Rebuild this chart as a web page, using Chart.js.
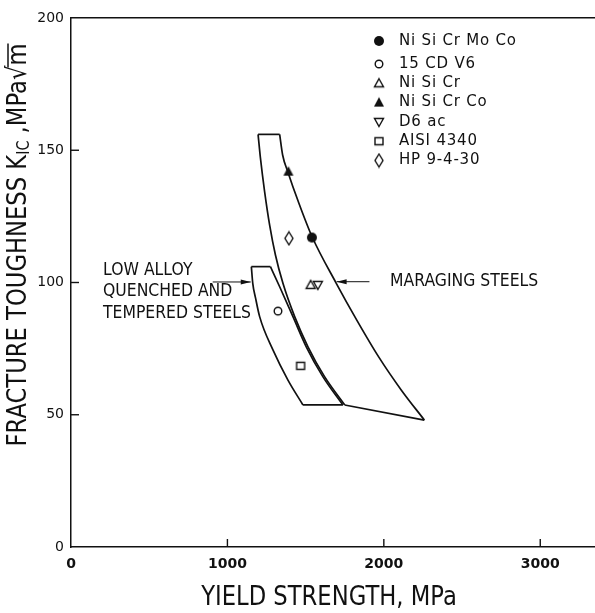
<!DOCTYPE html>
<html>
<head>
<meta charset="utf-8">
<script src="https://cdn.jsdelivr.net/npm/chart.js@4.4.1/dist/chart.umd.min.js"></script>
<style>
  html, body { margin: 0; padding: 0; background: #fff; }
  #wrap { width: 595px; height: 613px; position: relative; }
</style>
</head>
<body>
<div id="wrap"><canvas id="chart"></canvas></div>
<script>
// axis ticks
const xTicks = [0, 1000, 2000, 3000];
const yTicks = [0, 50, 100, 150, 200];

// maraging steels band (yield strength MPa, K_IC MPa√m)
const maragingTop = [[1196, 156], [1334, 156]];
const maragingRight = [[1334, 156], [1353, 148.2], [1386, 141.9], [1453, 130.6], [1542, 117.2],
  [1695, 99.8], [1827, 85.8], [1968, 71.8], [2111, 59.4], [2259, 48]];
const maragingBottom = [[2259, 48], [1750, 53.7]];
const maragingLeft = [[1196, 156], [1211, 147.1], [1238, 134.3], [1270, 121.7], [1307, 110.4], [1355, 99.7],
  [1430, 87.1], [1515, 75.7], [1620, 64.5], [1750, 53.7]];

// low alloy quenched and tempered steels band
const lowAlloyTop = [[1153, 106], [1275, 106]];
const lowAlloyRight = [[1275, 106], [1334, 98.4], [1419, 87.1], [1504, 75.7], [1610, 64.4], [1738, 53.7]];
const lowAlloyBottom = [[1483, 53.7], [1738, 53.7]];
const lowAlloyLeft = [[1153, 106], [1162, 99.7], [1180, 94.1], [1206, 87.1], [1291, 74.5], [1387, 63.1], [1483, 53.7]];

// individual steels
const steelNames = ["Ni Si Cr Mo Co", "15 CD V6", "Ni Si Cr", "Ni Si Cr Co", "D6 ac", "AISI 4340", "HP 9-4-30"];
const steelX = [1540, 1323, 1532, 1390, 1578, 1468, 1393];
const steelY = [117, 89.2, 99.1, 141.9, 99.1, 68.5, 116.7];
const steelMarkers = ["dot", "ring", "tri", "triFill", "triDown", "box", "diamond"];

// labels with arrows
const lowAlloyLabel = ["LOW ALLOY", "QUENCHED AND", "TEMPERED STEELS"];
const lowAlloyArrow = [[906, 100.2], [1149, 100.2]];
const maragingLabel = "MARAGING STEELS";
const maragingArrow = [[1908, 100.3], [1698, 100.3]];

const INK = "#111";
const FONT = '"DejaVu Sans", sans-serif';

function makeMarker(kind) {
  const c = document.createElement("canvas");
  c.width = 14; c.height = 16;
  const g = c.getContext("2d");
  g.strokeStyle = INK; g.fillStyle = INK; g.lineWidth = 1.4;
  const cx = 7, cy = 8;
  g.beginPath();
  if (kind === "dot") { g.arc(cx, cy, 5, 0, Math.PI * 2); g.fill(); }
  else if (kind === "ring") { g.arc(cx, cy, 3.8, 0, Math.PI * 2); g.stroke(); }
  else if (kind === "tri") { g.moveTo(cx, cy - 4.5); g.lineTo(cx + 4.5, cy + 3.5); g.lineTo(cx - 4.5, cy + 3.5); g.closePath(); g.stroke(); }
  else if (kind === "triFill") { g.moveTo(cx, cy - 5.5); g.lineTo(cx + 5, cy + 4); g.lineTo(cx - 5, cy + 4); g.closePath(); g.fill(); }
  else if (kind === "triDown") { g.moveTo(cx, cy + 4.5); g.lineTo(cx + 4.5, cy - 3.5); g.lineTo(cx - 4.5, cy - 3.5); g.closePath(); g.stroke(); }
  else if (kind === "box") { g.rect(cx - 4, cy - 3.5, 8, 7); g.stroke(); }
  else if (kind === "diamond") { g.moveTo(cx, cy - 6.5); g.lineTo(cx + 4, cy); g.lineTo(cx, cy + 6.5); g.lineTo(cx - 4, cy); g.closePath(); g.stroke(); }
  return c;
}
const markerImgs = {};
steelMarkers.forEach(k => { markerImgs[k] = makeMarker(k); });

const toXY = arr => arr.map(p => ({ x: p[0], y: p[1] }));

function outline(data, curved) {
  return {
    type: "line",
    data: toXY(data),
    showLine: true,
    borderColor: INK,
    borderWidth: 1.7,
    pointRadius: 0,
    cubicInterpolationMode: curved ? "monotone" : "default",
    tension: 0,
    fill: false
  };
}

const datasets = [
  {
    label: "steels",
    data: steelX.map((x, i) => ({ x: x, y: steelY[i] })),
    showLine: false,
    pointRadius: 5,
    pointStyle: steelMarkers.map(k => markerImgs[k])
  },
  outline(maragingTop, false),
  outline(maragingRight, true),
  outline(maragingBottom, false),
  outline(maragingLeft, true),
  outline(lowAlloyTop, false),
  outline(lowAlloyRight, true),
  outline(lowAlloyBottom, false),
  outline(lowAlloyLeft, true)
];

// condensed lettering: squeeze text horizontally
function squeezed(ctx, text, x, y, sx, align) {
  const w = ctx.measureText(text).width * sx;
  let left = x;
  if (align === "center") left = x - w / 2;
  ctx.save();
  ctx.translate(left, y);
  ctx.scale(sx, 1);
  ctx.textAlign = "left";
  ctx.fillText(text, 0, 0);
  ctx.restore();
  return w;
}

function drawArrow(ctx, x1, y1, x2, y2) {
  ctx.beginPath();
  ctx.moveTo(x1, y1); ctx.lineTo(x2, y2);
  ctx.stroke();
  const dir = Math.sign(x2 - x1);
  ctx.beginPath();
  ctx.moveTo(x2, y2);
  ctx.lineTo(x2 - dir * 10, y2 - 2.5);
  ctx.lineTo(x2 - dir * 10, y2 + 2.5);
  ctx.closePath();
  ctx.fill();
}

const decor = {
  id: "decor",
  afterDraw(chart) {
    const { ctx, chartArea: a } = chart;
    const x = chart.scales.x, y = chart.scales.y;
    ctx.save();
    ctx.strokeStyle = INK; ctx.fillStyle = INK; ctx.lineWidth = 1.4;

    // inward tick marks
    yTicks.slice(1, -1).forEach(v => {
      const py = y.getPixelForValue(v);
      ctx.beginPath(); ctx.moveTo(a.left, py); ctx.lineTo(a.left + 8, py); ctx.stroke();
    });
    xTicks.slice(1).forEach(v => {
      const px = x.getPixelForValue(v);
      ctx.beginPath(); ctx.moveTo(px, a.bottom); ctx.lineTo(px, a.bottom - 8); ctx.stroke();
    });

    // arrows
    ctx.lineWidth = 1;
    [lowAlloyArrow, maragingArrow].forEach(ar => {
      drawArrow(ctx, x.getPixelForValue(ar[0][0]), y.getPixelForValue(ar[0][1]),
        x.getPixelForValue(ar[1][0]), y.getPixelForValue(ar[1][1]));
    });

    // annotation text
    ctx.font = "17px " + FONT;
    ctx.textBaseline = "middle";
    lowAlloyLabel.forEach((t, i) => squeezed(ctx, t, 103, 270.5 + i * 21.5, 0.92, "left"));
    squeezed(ctx, maragingLabel, 390, 282, 0.92, "left");

    // legend
    ctx.font = "15px " + FONT;
    ctx.letterSpacing = "0.8px";
    steelNames.forEach((t, i) => {
      const ry = i === 0 ? 41 : 64 + (i - 1) * 19.3;
      const img = markerImgs[steelMarkers[i]];
      ctx.drawImage(img, 379 - img.width / 2, ry - img.height / 2);
      ctx.fillText(t, 399, ry);
    });
    ctx.letterSpacing = "0px";

    // x title
    ctx.font = "27px " + FONT;
    squeezed(ctx, "YIELD STRENGTH, MPa", 329, 598, 0.84, "center");

    // y title (rotated, with subscript and root)
    const big = "27px " + FONT, small = "17px " + FONT;
    const sx = 0.84;
    const parts = [
      { t: "FRACTURE TOUGHNESS K", f: big, dy: 0 },
      { t: "IC", f: small, dy: 6 },
      { t: " ,MPa\u221A", f: big, dy: 0 },
      { t: "m", f: big, dy: 0 }
    ];
    let total = 0;
    parts.forEach(p => { ctx.font = p.f; p.w = ctx.measureText(p.t).width * sx; total += p.w; });
    ctx.translate(19, 245);
    ctx.rotate(-Math.PI / 2);
    let cx = -total / 2;
    parts.forEach(p => {
      ctx.font = p.f;
      squeezed(ctx, p.t, cx, p.dy, sx, "left");
      p.x = cx;
      cx += p.w;
    });
    const m = parts[3];
    ctx.lineWidth = 1.5;
    ctx.beginPath(); ctx.moveTo(m.x - 2, -11); ctx.lineTo(m.x + m.w, -11); ctx.stroke();
    ctx.restore();
  }
};

new Chart(document.getElementById("chart"), {
  type: "scatter",
  data: { datasets: datasets },
  options: {
    responsive: true,
    maintainAspectRatio: false,
    animation: false,
    layout: { padding: 0, autoPadding: false },
    plugins: { legend: { display: false }, tooltip: { enabled: false } },
    scales: {
      x: {
        type: "linear", position: "bottom", min: 0, max: 3350,
        afterBuildTicks: s => { s.ticks = xTicks.map(v => ({ value: v })); },
        afterFit: s => { s.height = 66; },
        grid: { drawOnChartArea: false, drawTicks: false },
        border: { display: true, color: INK, width: 1.5 },
        ticks: {
          padding: 9, color: INK, maxRotation: 0, autoSkip: false,
          font: { family: FONT, size: 14, weight: "bold" },
          callback: v => String(v)
        }
      },
      xTop: {
        type: "linear", position: "top", min: 0, max: 3350, display: true,
        afterFit: s => { s.height = 18; },
        grid: { drawOnChartArea: false, drawTicks: false },
        border: { display: true, color: INK, width: 1.5 },
        ticks: { display: false }
      },
      y: {
        type: "linear", position: "left", min: 0, max: 200,
        afterBuildTicks: s => { s.ticks = yTicks.map(v => ({ value: v })); },
        afterFit: s => { s.width = 71; },
        grid: { drawOnChartArea: false, drawTicks: false },
        border: { display: true, color: INK, width: 1.5 },
        ticks: {
          padding: 7, color: INK,
          font: { family: FONT, size: 14 },
          callback: v => String(v)
        }
      }
    }
  },
  plugins: [decor]
});
</script>
</body>
</html>
